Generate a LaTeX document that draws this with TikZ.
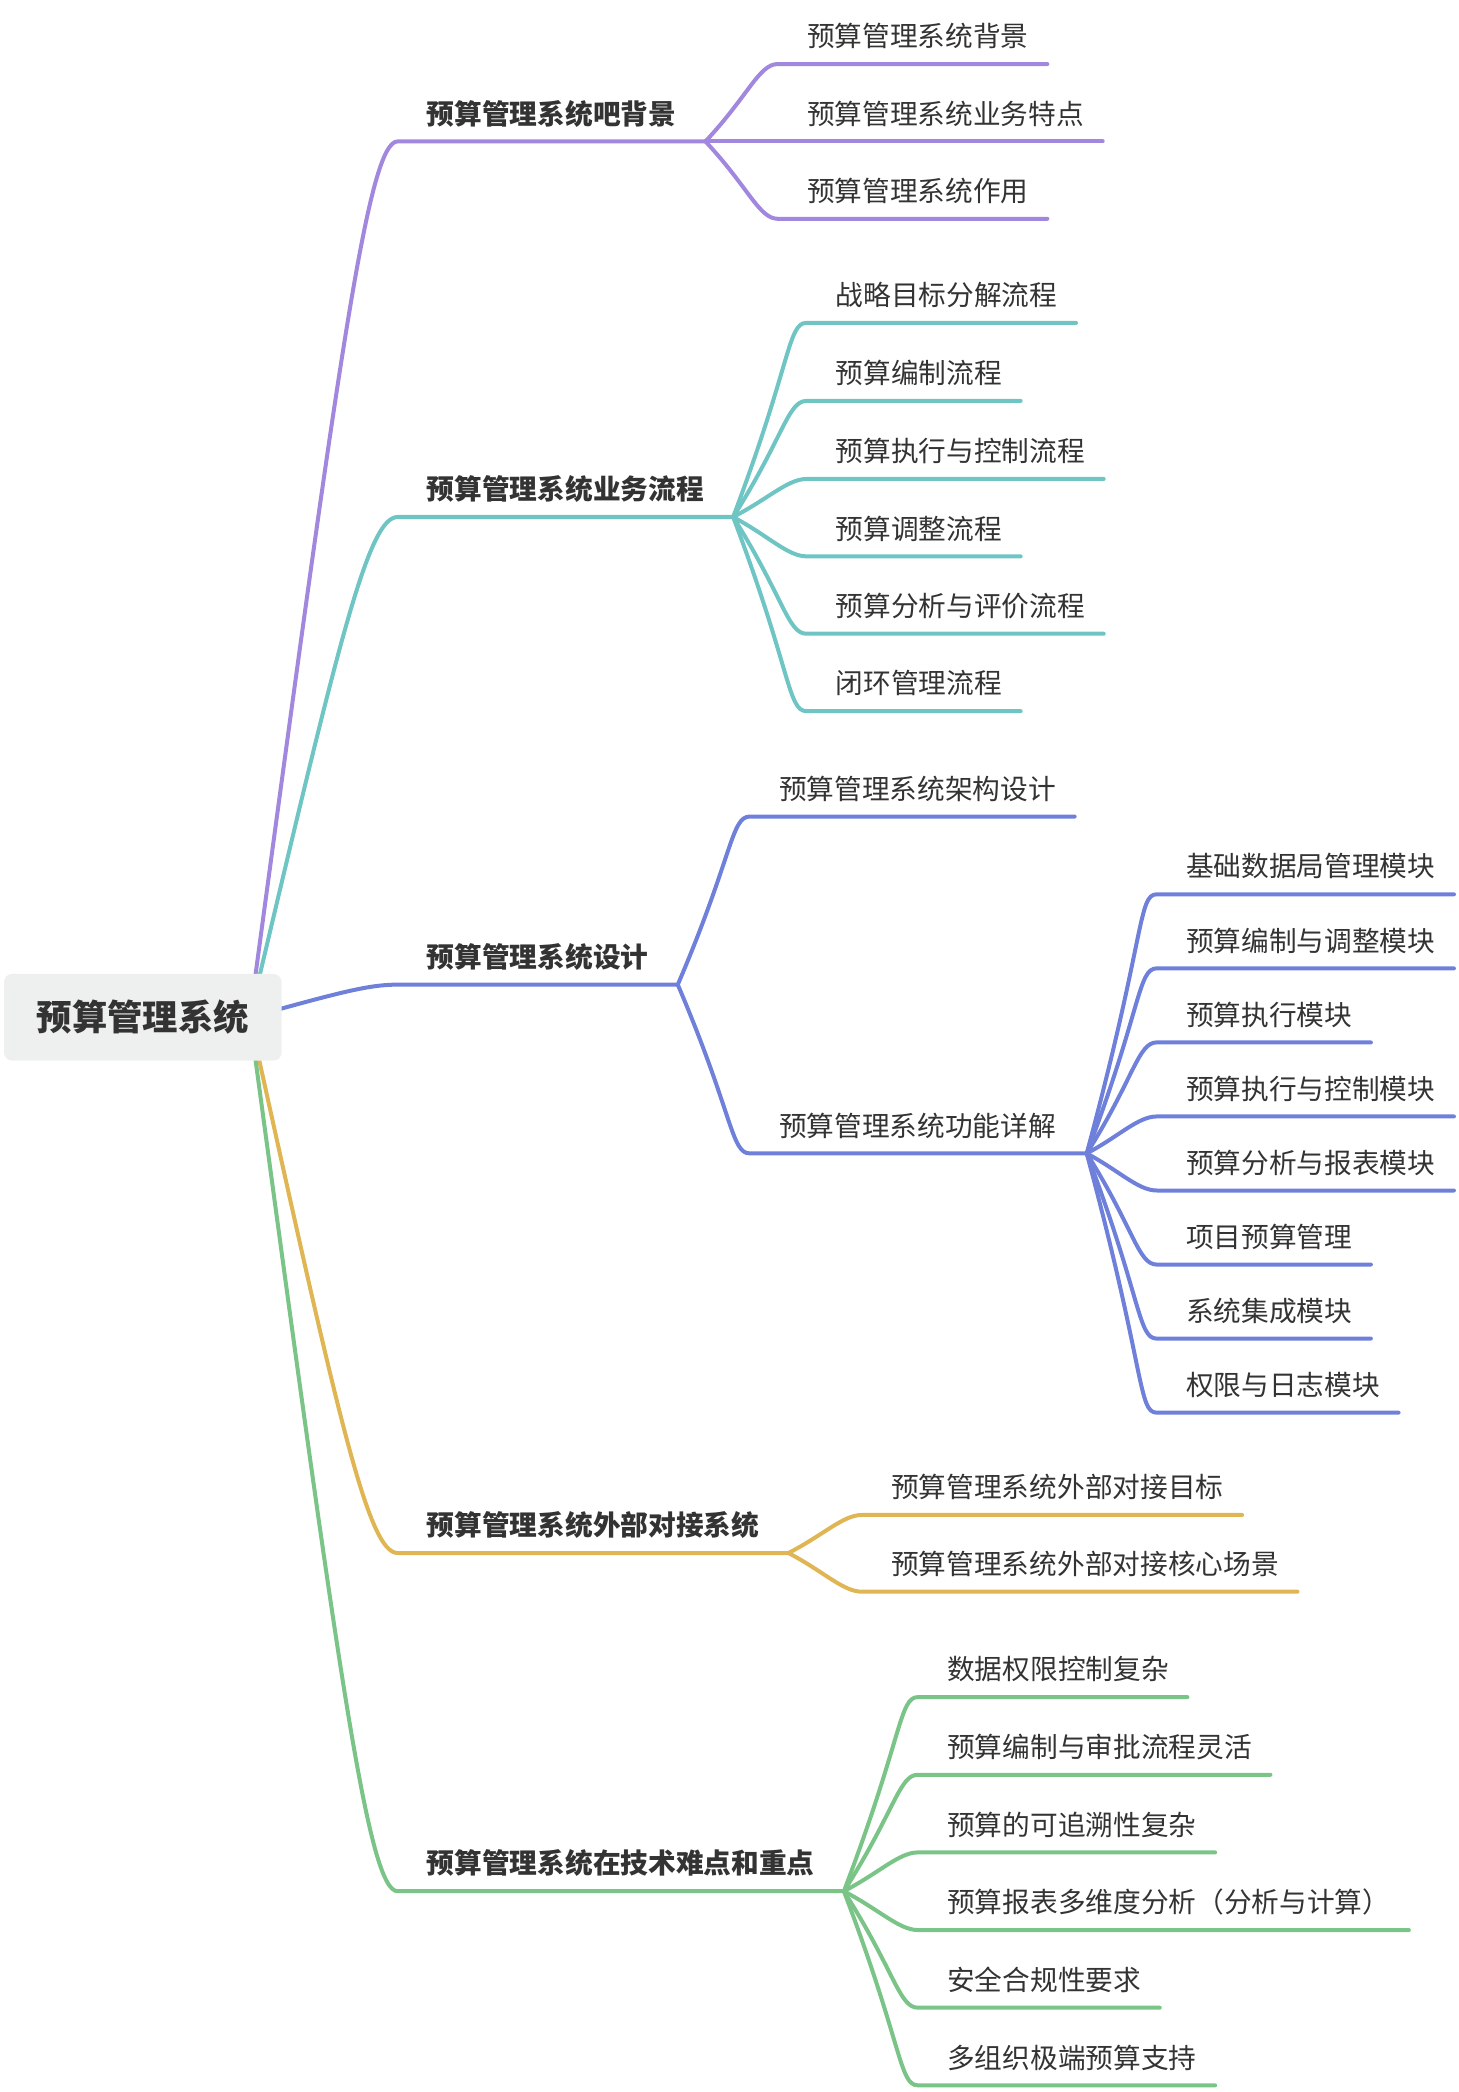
\documentclass[tikz,border=0pt]{standalone}
\usepackage{fontspec}
\newfontfamily\cjk{Noto Sans CJK SC}
\usetikzlibrary{calc,backgrounds}

\definecolor{mpurple}{HTML}{A287DE}
\definecolor{mteal}{HTML}{6EC5C3}
\definecolor{mblue}{HTML}{6F80DB}
\definecolor{morange}{HTML}{E0B654}
\definecolor{mgreen}{HTML}{7AC487}
\definecolor{rootgray}{HTML}{EEF0EF}
\definecolor{txtgray}{HTML}{333333}

\begin{document}
\begin{tikzpicture}[x=1pt, y=-1pt]
\tikzset{
  link/.style={line width=3pt, line cap=round},
  topic/.style={anchor=south west, inner sep=0pt, outer sep=0pt, text depth=13pt, text=txtgray,
    font=\cjk\fontsize{20.75pt}{25pt}\selectfont,
    execute at begin node={\hspace*{22pt}}, execute at end node={\hspace*{#1}}},
  topic/.default=14pt,
  main/.style={topic=22pt, font=\cjk\bfseries\fontsize{20.75pt}{25pt}\selectfont},
  rootbox/.style={fill=rootgray, rounded corners=6pt, minimum width=208pt, minimum height=65pt,
    inner sep=0pt, text=txtgray, font=\cjk\bfseries\fontsize{26.5pt}{30pt}\selectfont},
  rootlink/.style={to path={.. controls ($0.25*(\tikztostart)+0.6*(\tikztotarget)+0.15*(\tikztostart |- \tikztotarget)$)
    and ($(\tikztostart |- \tikztotarget)!0.8!(\tikztotarget)$) .. (\tikztotarget)}},
  sublink/.style={to path={.. controls ($(\tikztotarget)!32pt!(\tikztostart)$)
    and ($(\tikztotarget)+(-14pt,0)$) .. (\tikztotarget)}},
}

\useasboundingbox (0,0) rectangle (1093,1568);

% root
\node [rootbox] (root) at (107,762.5) {预算管理系统};
\coordinate (hub) at ([xshift=-24pt]root.east);

% first level
\node [main] (b1) at (298,106)    {预算管理系统吧背景};
\node [main] (b2) at (298,387.5)  {预算管理系统业务流程};
\node [main] (b3) at (298,738)    {预算管理系统设计};
\node [main] (b4) at (298,1164)   {预算管理系统外部对接系统};
\node [main] (b5) at (298,1417.5) {预算管理系统在技术难点和重点};

% background
\node [topic] (p1) at (583,48)  {预算管理系统背景};
\node [topic] (p2) at (583,106) {预算管理系统业务特点};
\node [topic] (p3) at (583,164) {预算管理系统作用};

% business flow
\node [topic] (f1) at (604.5,242)   {战略目标分解流程};
\node [topic] (f2) at (604.5,300.5) {预算编制流程};
\node [topic] (f3) at (604.5,359)   {预算执行与控制流程};
\node [topic] (f4) at (604.5,417)   {预算调整流程};
\node [topic] (f5) at (604.5,475)   {预算分析与评价流程};
\node [topic] (f6) at (604.5,533)   {闭环管理流程};

% design
\node [topic]      (d1) at (562,612)   {预算管理系统架构设计};
\node [topic=23pt] (d2) at (562,864.5) {预算管理系统功能详解};

\node [topic] (m1) at (867,670.3)  {基础数据局管理模块};
\node [topic] (m2) at (867,725.8)  {预算编制与调整模块};
\node [topic] (m3) at (867,781.3)  {预算执行模块};
\node [topic] (m4) at (867,836.8)  {预算执行与控制模块};
\node [topic] (m5) at (867,892.3)  {预算分析与报表模块};
\node [topic] (m6) at (867,947.8)  {项目预算管理};
\node [topic] (m7) at (867,1003.3) {系统集成模块};
\node [topic] (m8) at (867,1058.8) {权限与日志模块};

% external
\node [topic] (e1) at (646,1135.5) {预算管理系统外部对接目标};
\node [topic] (e2) at (646,1193)   {预算管理系统外部对接核心场景};

% key points
\node [topic] (k1) at (688,1272)   {数据权限控制复杂};
\node [topic] (k2) at (688,1330.2) {预算编制与审批流程灵活};
\node [topic] (k3) at (688,1388.4) {预算的可追溯性复杂};
\node [topic] (k4) at (688,1446.6) {预算报表多维度分析（分析与计算）};
\node [topic] (k5) at (688,1504.8) {安全合规性要求};
\node [topic] (k6) at (688,1563)   {多组织极端预算支持};

\begin{scope}[on background layer={link}]
\draw [mpurple] (hub) to[rootlink] (b1.south west) -- (b1.south east);
\draw [mteal]   (hub) to[rootlink] (b2.south west) -- (b2.south east);
\draw [mblue]   (hub) to[rootlink] (b3.south west) -- (b3.south east);
\draw [morange] (hub) to[rootlink] (b4.south west) -- (b4.south east);
\draw [mgreen]  (hub) to[rootlink] (b5.south west) -- (b5.south east);

\draw [mpurple] (b1.south east) to[sublink] (p1.south west) -- (p1.south east);
\draw [mpurple] (b1.south east) to[sublink] (p2.south west) -- (p2.south east);
\draw [mpurple] (b1.south east) to[sublink] (p3.south west) -- (p3.south east);

\draw [mteal] (b2.south east) to[sublink] (f1.south west) -- (f1.south east);
\draw [mteal] (b2.south east) to[sublink] (f2.south west) -- (f2.south east);
\draw [mteal] (b2.south east) to[sublink] (f3.south west) -- (f3.south east);
\draw [mteal] (b2.south east) to[sublink] (f4.south west) -- (f4.south east);
\draw [mteal] (b2.south east) to[sublink] (f5.south west) -- (f5.south east);
\draw [mteal] (b2.south east) to[sublink] (f6.south west) -- (f6.south east);

\draw [mblue] (b3.south east) to[sublink] (d1.south west) -- (d1.south east);
\draw [mblue] (b3.south east) to[sublink] (d2.south west) -- (d2.south east);

\draw [mblue] (d2.south east) to[sublink] (m1.south west) -- (m1.south east);
\draw [mblue] (d2.south east) to[sublink] (m2.south west) -- (m2.south east);
\draw [mblue] (d2.south east) to[sublink] (m3.south west) -- (m3.south east);
\draw [mblue] (d2.south east) to[sublink] (m4.south west) -- (m4.south east);
\draw [mblue] (d2.south east) to[sublink] (m5.south west) -- (m5.south east);
\draw [mblue] (d2.south east) to[sublink] (m6.south west) -- (m6.south east);
\draw [mblue] (d2.south east) to[sublink] (m7.south west) -- (m7.south east);
\draw [mblue] (d2.south east) to[sublink] (m8.south west) -- (m8.south east);

\draw [morange] (b4.south east) to[sublink] (e1.south west) -- (e1.south east);
\draw [morange] (b4.south east) to[sublink] (e2.south west) -- (e2.south east);

\draw [mgreen] (b5.south east) to[sublink] (k1.south west) -- (k1.south east);
\draw [mgreen] (b5.south east) to[sublink] (k2.south west) -- (k2.south east);
\draw [mgreen] (b5.south east) to[sublink] (k3.south west) -- (k3.south east);
\draw [mgreen] (b5.south east) to[sublink] (k4.south west) -- (k4.south east);
\draw [mgreen] (b5.south east) to[sublink] (k5.south west) -- (k5.south east);
\draw [mgreen] (b5.south east) to[sublink] (k6.south west) -- (k6.south east);
\end{scope}

\end{tikzpicture}
\end{document}
